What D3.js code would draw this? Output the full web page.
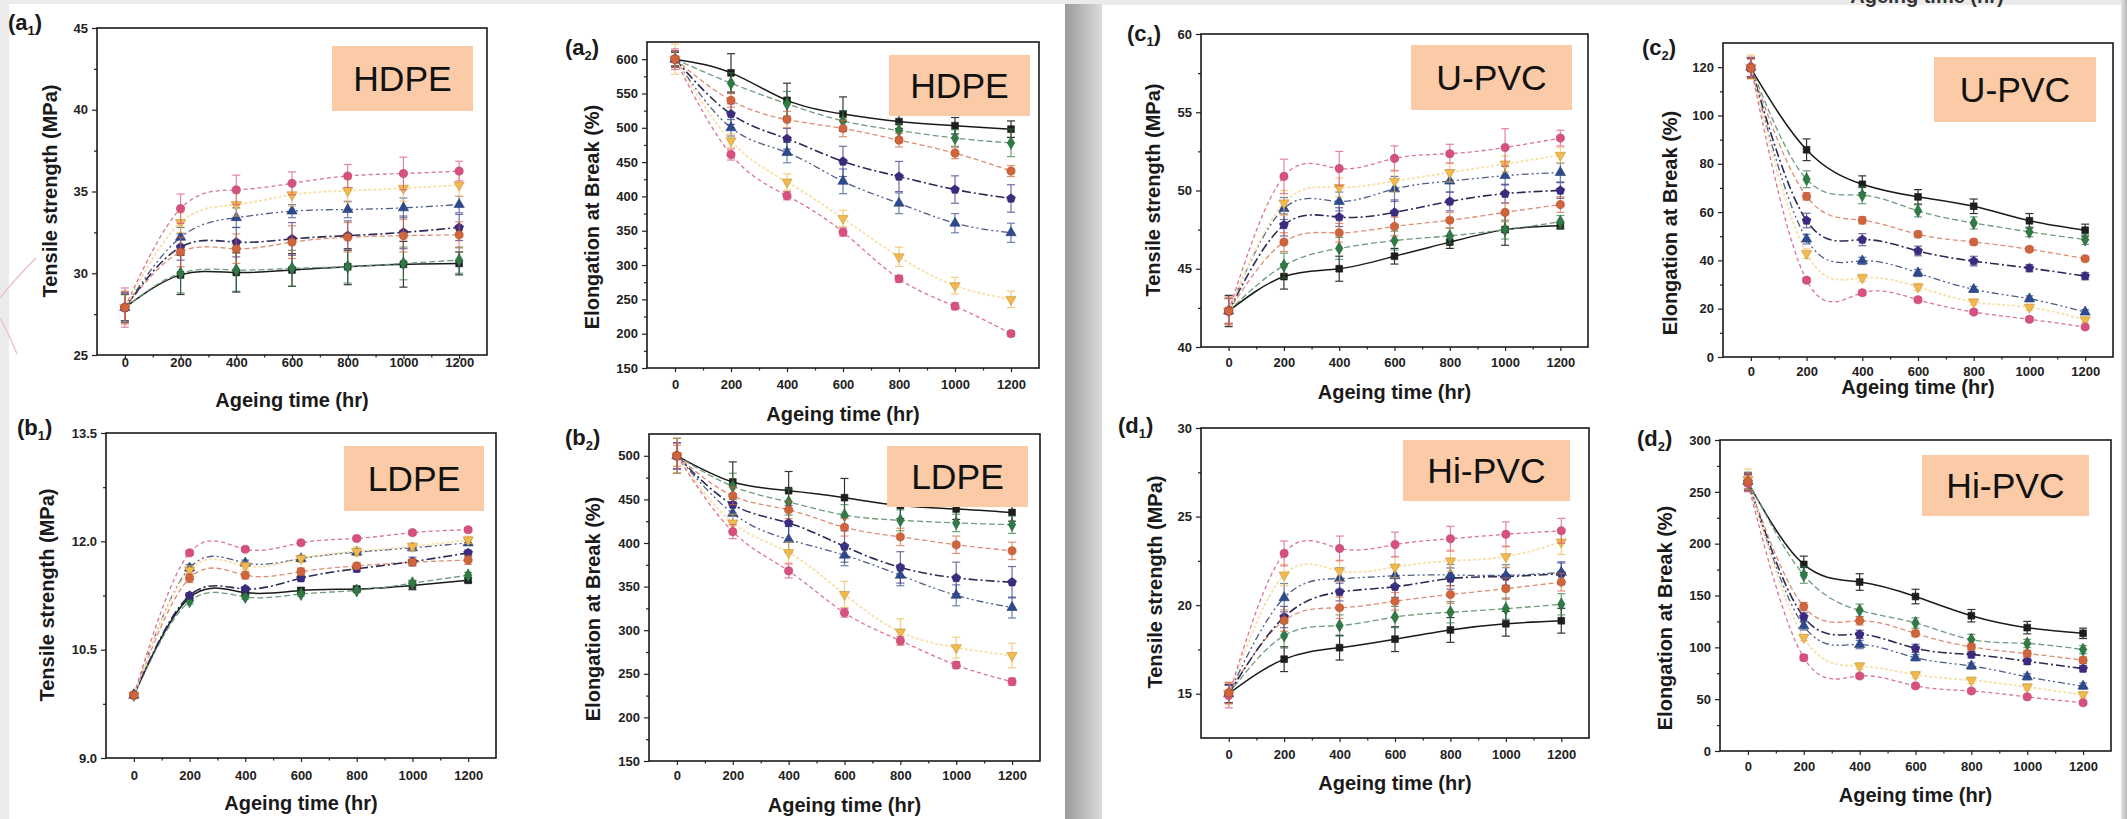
<!DOCTYPE html>
<html lang="en">
<head>
<meta charset="UTF-8">
<title>Ageing time curves</title>
<script src="https://cdn.jsdelivr.net/npm/d3@7/dist/d3.min.js"></script>
<style>
  body { margin: 0; background: #e8e8e8; }
  svg { display: block; }
  text { font-family: "Liberation Sans", Arial, sans-serif; }
</style>
</head>
<body>
<div id="app"></div>
<script>
var width = 2127, height = 819;

// ageing time (hr)
var hours = [0, 200, 400, 600, 800, 1000, 1200];
var xTicks = [0, 200, 400, 600, 800, 1000, 1200];
var xMinorTicks = [100, 300, 500, 700, 900, 1100];
var seriesNames = ["S1", "S2", "S3", "S4", "S5", "S6", "S7"];

// HDPE tensile strength (MPa), one row per series
var hdpeTS = [
  [27.9, 29.9, 30.05, 30.2, 30.4, 30.55, 30.6],
  [27.9, 30.0, 30.2, 30.3, 30.4, 30.6, 30.8],
  [27.9, 31.3, 31.5, 31.9, 32.2, 32.3, 32.35],
  [27.9, 31.6, 31.9, 32.1, 32.3, 32.5, 32.8],
  [27.9, 32.2, 33.4, 33.8, 33.9, 34.0, 34.2],
  [27.9, 33.1, 34.2, 34.8, 35.05, 35.2, 35.4],
  [27.9, 33.95, 35.1, 35.5, 35.95, 36.1, 36.25]
];
var hdpeTSErr = [
  [0.8, 1.2, 1.2, 1.0, 1.1, 1.4, 0.7],
  [0.8, 1.2, 1.3, 1.1, 1.0, 1.0, 0.8],
  [1.0, 0.9, 0.9, 1.0, 0.9, 1.0, 0.8],
  [0.9, 0.8, 0.9, 1.0, 0.9, 1.0, 0.8],
  [0.9, 0.6, 0.6, 0.4, 0.5, 0.6, 0.5],
  [1.0, 0.6, 0.7, 0.7, 0.7, 0.8, 0.7],
  [1.2, 0.9, 0.9, 0.7, 0.7, 1.0, 0.6]
];
var hdpeTSTicks = [25, 30, 35, 40, 45];

// HDPE elongation at break (%)
var hdpeEB = [
  [600, 580, 540, 520, 509, 503, 498],
  [600, 565, 535, 510, 496, 485, 478],
  [600, 540, 512, 499, 482, 463, 437],
  [600, 520, 484, 451, 429, 410, 397],
  [600, 500, 464, 422, 390, 361, 347],
  [600, 481, 421, 368, 312, 270, 250],
  [600, 461, 401, 348, 280, 240, 200]
];
var hdpeEBErr = [
  [10, 28, 25, 25, 10, 12, 12],
  [10, 15, 18, 15, 10, 12, 20],
  [12, 10, 12, 12, 10, 8, 8],
  [12, 15, 15, 22, 22, 20, 20],
  [12, 12, 15, 18, 15, 14, 14],
  [22, 10, 12, 12, 14, 12, 12],
  [15, 8, 6, 6, 5, 5, 4]
];
var hdpeEBTicks = [150, 200, 250, 300, 350, 400, 450, 500, 550, 600];

// LDPE tensile strength (MPa)
var ldpeTS = [
  [9.87, 11.22, 11.29, 11.32, 11.34, 11.39, 11.46],
  [9.87, 11.17, 11.23, 11.27, 11.32, 11.42, 11.53],
  [9.87, 11.49, 11.53, 11.58, 11.66, 11.71, 11.74],
  [9.87, 11.25, 11.34, 11.49, 11.62, 11.72, 11.84],
  [9.87, 11.63, 11.70, 11.76, 11.85, 11.91, 11.98],
  [9.87, 11.60, 11.66, 11.76, 11.86, 11.93, 12.02],
  [9.87, 11.84, 11.89, 11.98, 12.04, 12.12, 12.16]
];
var ldpeTSErr = [
  [0.03, 0.04, 0.03, 0.03, 0.03, 0.06, 0.03],
  [0.03, 0.04, 0.03, 0.03, 0.03, 0.04, 0.04],
  [0.03, 0.06, 0.05, 0.05, 0.04, 0.04, 0.06],
  [0.03, 0.04, 0.03, 0.04, 0.04, 0.06, 0.04],
  [0.03, 0.05, 0.04, 0.04, 0.04, 0.04, 0.04],
  [0.03, 0.06, 0.05, 0.05, 0.06, 0.05, 0.05],
  [0.03, 0.03, 0.03, 0.03, 0.03, 0.03, 0.03]
];
var ldpeTSTicks = [9.0, 10.5, 12.0, 13.5];

// LDPE elongation at break (%)
var ldpeEB = [
  [500, 470, 460, 452, 443, 439, 435],
  [500, 465, 447, 432, 426, 423, 421],
  [500, 454, 438, 418, 407, 398, 391],
  [500, 444, 423, 396, 372, 360, 355],
  [500, 434, 404, 386, 363, 340, 326],
  [500, 423, 389, 341, 298, 280, 271],
  [500, 413, 368, 320, 288, 260, 241]
];
var ldpeEBErr = [
  [20, 23, 22, 22, 15, 12, 10],
  [15, 15, 15, 12, 12, 10, 10],
  [12, 10, 10, 10, 10, 10, 10],
  [15, 12, 20, 18, 18, 18, 18],
  [15, 10, 15, 12, 12, 12, 12],
  [20, 10, 12, 15, 15, 12, 14],
  [15, 8, 8, 5, 5, 4, 4]
];
var ldpeEBTicks = [150, 200, 250, 300, 350, 400, 450, 500];

// U-PVC tensile strength (MPa)
var upvcTS = [
  [42.3, 44.5, 45.0, 45.8, 46.7, 47.5, 47.75],
  [42.3, 45.2, 46.3, 46.8, 47.1, 47.5, 48.0],
  [42.3, 46.7, 47.3, 47.7, 48.1, 48.6, 49.1],
  [42.3, 47.8, 48.3, 48.6, 49.3, 49.8, 50.0],
  [42.3, 48.85, 49.3, 50.1, 50.6, 50.95, 51.15],
  [42.3, 49.2, 50.2, 50.6, 51.15, 51.7, 52.25],
  [42.3, 50.9, 51.4, 52.05, 52.35, 52.75, 53.35]
];
var upvcTSErr = [
  [1.0, 0.8, 0.8, 0.5, 0.4, 1.0, 0.2],
  [0.8, 0.8, 0.7, 0.6, 0.5, 0.6, 0.4],
  [0.9, 0.6, 0.6, 0.6, 0.5, 0.6, 0.5],
  [0.8, 0.7, 0.6, 0.8, 0.6, 0.6, 0.5],
  [0.8, 0.7, 0.6, 0.8, 0.7, 0.6, 0.6],
  [0.8, 0.8, 0.6, 0.7, 0.6, 0.5, 0.5],
  [0.8, 1.1, 1.1, 0.8, 0.6, 1.2, 0.5]
];
var upvcTSTicks = [40, 45, 50, 55, 60];

// U-PVC elongation at break (%)
var upvcEB = [
  [119.5, 85.8, 71.5, 66.3, 62.4, 56.4, 52.5],
  [120, 73.6, 67, 60.5, 55.5, 51.8, 48.6],
  [119.5, 66.5, 56.6, 50.8, 47.6, 44.6, 40.7],
  [120, 56.5, 48.6, 43.9, 39.7, 36.8, 33.5],
  [120, 48.8, 39.8, 34.8, 28, 24.1, 18.6],
  [120, 42.8, 32.8, 29, 22.8, 20.6, 15.4],
  [120, 31.8, 26.6, 23.7, 18.6, 15.6, 12.4]
];
var upvcEBErr = [
  [4, 4.5, 3.5, 3.0, 3.0, 3.0, 2.5],
  [4, 3.5, 3.5, 2.5, 2.5, 2.0, 2.0],
  [4, 1.5, 1.5, 1.2, 1.2, 1.0, 1.0],
  [4, 3.0, 2.5, 2.0, 2.0, 1.5, 1.5],
  [4, 2.0, 1.5, 1.5, 1.2, 1.2, 1.0],
  [5, 2.0, 1.5, 1.5, 1.2, 1.2, 1.0],
  [4, 1.0, 1.0, 1.0, 1.0, 1.0, 0.8]
];
var upvcEBTicks = [0, 20, 40, 60, 80, 100, 120];

// Hi-PVC tensile strength (MPa)
var hipvcTS = [
  [15.0, 16.95, 17.6, 18.08, 18.6, 18.95, 19.12],
  [15.0, 18.28, 18.85, 19.33, 19.6, 19.8, 20.05],
  [15.05, 19.13, 19.85, 20.22, 20.6, 20.93, 21.3],
  [15.0, 19.33, 20.74, 21.04, 21.5, 21.62, 21.78],
  [15.0, 20.42, 21.5, 21.66, 21.7, 21.68, 21.85],
  [15.0, 21.7, 21.94, 22.15, 22.5, 22.74, 23.56],
  [14.9, 22.92, 23.2, 23.42, 23.75, 24.0, 24.2]
];
var hipvcTSErr = [
  [0.5, 0.7, 0.7, 0.7, 0.7, 0.7, 0.7],
  [0.5, 0.7, 0.6, 0.6, 0.6, 0.6, 0.6],
  [0.6, 0.6, 0.6, 0.5, 0.5, 0.6, 0.5],
  [0.5, 0.6, 0.5, 0.6, 0.6, 0.5, 0.6],
  [0.5, 0.8, 0.6, 0.5, 0.6, 0.6, 0.6],
  [0.6, 0.6, 0.6, 0.6, 0.6, 0.6, 0.7],
  [0.7, 0.7, 0.7, 0.7, 0.7, 0.7, 0.7]
];
var hipvcTSTicks = [15, 20, 25, 30];

// Hi-PVC elongation at break (%)
var hipvcEB = [
  [259, 180, 163, 149, 130.5, 119, 113.5],
  [261, 169.8, 135.7, 123.5, 107.5, 103.7, 97.8],
  [260, 139.3, 125.6, 113.4, 100.4, 94, 87.6],
  [260, 129.3, 112.5, 99, 93, 86.6, 79.5],
  [260, 120.7, 102.7, 90, 82, 71.6, 62.6],
  [262, 109.5, 82, 73.6, 68.2, 61.8, 54.3],
  [258, 90, 72.4, 62.8, 57.9, 52.2, 46.5]
];
var hipvcEBErr = [
  [8, 8, 8, 7, 6, 6, 5],
  [8, 8, 6, 5, 5, 4, 4],
  [8, 4, 4, 3, 3, 3, 3],
  [8, 4, 4, 4, 3, 3, 3],
  [8, 4, 4, 3, 3, 3, 3],
  [10, 3, 3, 3, 3, 3, 3],
  [8, 3, 2, 2, 2, 2, 2]
];
var hipvcEBTicks = [0, 50, 100, 150, 200, 250, 300];

// look of each series
var pentagon = {
  draw: function (ctx, size) {
    var r = Math.sqrt(size) * 0.62;
    for (var k = 0; k < 5; k++) {
      var a = -Math.PI / 2 + k * 2 * Math.PI / 5;
      if (k === 0) ctx.moveTo(r * Math.cos(a), r * Math.sin(a));
      else ctx.lineTo(r * Math.cos(a), r * Math.sin(a));
    }
    ctx.closePath();
  }
};
var styles = [
  { mark: "#1e1e1e", line: "#1a1a1a", dash: null, lw: 1.5, sym: d3.symbolSquare, size: 46, rot: 0 },
  { mark: "#2f7a45", line: "#6f9c7c", dash: "6,3", lw: 1.3, sym: d3.symbolDiamond, size: 48, rot: 0 },
  { mark: "#d2643c", line: "#dd8d72", dash: "5,3", lw: 1.3, sym: d3.symbolCircle, size: 52, rot: 0 },
  { mark: "#3c2a80", line: "#2b2a55", dash: "9,3,2,3", lw: 1.6, sym: pentagon, size: 56, rot: 0 },
  { mark: "#2e4a8e", line: "#4d5c88", dash: "7,3,2,3,2,3", lw: 1.3, sym: d3.symbolTriangle, size: 46, rot: 0 },
  { mark: "#f2b94d", line: "#f7e2ae", dash: "3,2", lw: 1.9, sym: d3.symbolTriangle, size: 46, rot: 180 },
  { mark: "#d9507f", line: "#db7392", dash: "4,3", lw: 1.3, sym: d3.symbolCircle, size: 52, rot: 0 }
];
var drawOrder = [0, 1, 3, 4, 5, 6, 2];

var tsTitle = "Tensile strength (MPa)";
var ebTitle = "Elongation at Break (%)";

var panels = [
  { letter: "a", sub: "1", name: "HDPE", vals: hdpeTS, errs: hdpeTSErr, ticks: hdpeTSTicks, yDomain: [25, 45], fmt: "d", title: tsTitle,
    l: 97, t: 28, r: 487, b: 355, lab: [8, 22], box: [332, 46, 473, 111], xLab: 3, xTitleY: 400, yTitleX: 50, yTitleY: 191 },
  { letter: "a", sub: "2", name: "HDPE", vals: hdpeEB, errs: hdpeEBErr, ticks: hdpeEBTicks, yDomain: [150, 625], fmt: "d", title: ebTitle,
    l: 647, t: 42, r: 1039, b: 368, lab: [565, 47], box: [889, 55, 1030, 116], xLab: 12, xTitleY: 414, yTitleX: 592, yTitleY: 217 },
  { letter: "b", sub: "1", name: "LDPE", vals: ldpeTS, errs: ldpeTSErr, ticks: ldpeTSTicks, yDomain: [9, 13.5], fmt: ".1f", title: tsTitle,
    l: 106, t: 433, r: 496, b: 758, lab: [17, 427], box: [344, 446, 484, 511], xLab: 13, xTitleY: 803, yTitleX: 47, yTitleY: 595 },
  { letter: "b", sub: "2", name: "LDPE", vals: ldpeEB, errs: ldpeEBErr, ticks: ldpeEBTicks, yDomain: [150, 525], fmt: "d", title: ebTitle,
    l: 649, t: 434, r: 1040, b: 761, lab: [565, 437], box: [887, 446, 1028, 507], xLab: 10, xTitleY: 805, yTitleX: 593, yTitleY: 609 },
  { letter: "c", sub: "1", name: "U-PVC", vals: upvcTS, errs: upvcTSErr, ticks: upvcTSTicks, yDomain: [40, 60], fmt: "d", title: tsTitle,
    l: 1201, t: 34, r: 1588, b: 347, lab: [1127, 33], box: [1411, 45, 1572, 110], xLab: 11, xTitleY: 392, yTitleX: 1153, yTitleY: 190 },
  { letter: "c", sub: "2", name: "U-PVC", vals: upvcEB, errs: upvcEBErr, ticks: upvcEBTicks, yDomain: [0, 130], fmt: "d", title: ebTitle,
    l: 1723, t: 43, r: 2113, b: 357, lab: [1642, 47], box: [1934, 57, 2096, 122], xLab: 10, xTitleY: 387, yTitleX: 1670, yTitleY: 223 },
  { letter: "d", sub: "1", name: "Hi-PVC", vals: hipvcTS, errs: hipvcTSErr, ticks: hipvcTSTicks, yDomain: [12.5, 30], fmt: "d", title: tsTitle,
    l: 1201, t: 428, r: 1589, b: 738, lab: [1118, 425], box: [1403, 440, 1570, 501], xLab: 12, xTitleY: 783, yTitleX: 1155, yTitleY: 582 },
  { letter: "d", sub: "2", name: "Hi-PVC", vals: hipvcEB, errs: hipvcEBErr, ticks: hipvcEBTicks, yDomain: [0, 300], fmt: "d", title: ebTitle,
    l: 1720, t: 440, r: 2111, b: 751, lab: [1637, 438], box: [1922, 455, 2089, 516], xLab: 11, xTitleY: 795, yTitleX: 1665, yTitleY: 618 }
];

var svg = d3.select("#app").append("svg")
  .attr("width", width)
  .attr("height", height);

// page background: two scanned sheets side by side
var defs = svg.append("defs");
var grad = defs.append("linearGradient").attr("id", "gap");
grad.append("stop").attr("offset", "0%").attr("stop-color", "#9a9a9a");
grad.append("stop").attr("offset", "100%").attr("stop-color", "#dcdcdc");
var edge = defs.append("linearGradient").attr("id", "edge");
edge.append("stop").attr("offset", "0%").attr("stop-color", "#e4e4e4");
edge.append("stop").attr("offset", "100%").attr("stop-color", "#b8b8b8");

svg.append("rect").attr("width", width).attr("height", height).attr("fill", "#ebebeb");
svg.append("rect").attr("x", 9).attr("y", 4).attr("width", 1056).attr("height", 815).attr("fill", "#fff");
svg.append("rect").attr("x", 1065).attr("y", 4).attr("width", 37).attr("height", 815).attr("fill", "url(#gap)");
svg.append("rect").attr("x", 1102).attr("y", 5).attr("width", 1019).attr("height", 814).attr("fill", "#fff");
svg.append("rect").attr("x", 2121).attr("y", 0).attr("width", 6).attr("height", height).attr("fill", "url(#edge)");

// faint decoration at the left edge
svg.append("path").attr("d", "M36,258 Q14,280 0,298 M0,318 Q9,334 17,354")
  .attr("fill", "none").attr("stroke", "#efc3c7").attr("stroke-width", 1.5);

// cut-off title from the sheet above (only its lower part shows)
svg.append("text").attr("x", 1927).attr("y", 3).attr("text-anchor", "middle")
  .attr("font-size", 20).attr("font-weight", "bold").attr("fill", "#333").text("Ageing time (hr)");

function minorOf(ticks, domain) {
  var step = ticks[1] - ticks[0], out = [];
  for (var i = 0; i < ticks.length - 1; i++) out.push((ticks[i] + ticks[i + 1]) / 2);
  if (ticks[0] - step / 2 > domain[0]) out.unshift(ticks[0] - step / 2);
  if (ticks[ticks.length - 1] + step / 2 < domain[1]) out.push(ticks[ticks.length - 1] + step / 2);
  return out;
}

panels.forEach(function (p) {
  var x = d3.scaleLinear().domain([-100, 1300]).range([p.l, p.r]);
  var y = d3.scaleLinear().domain(p.yDomain).range([p.b, p.t]);
  var g = svg.append("g");

  var line = d3.line()
    .x(function (d, j) { return x(hours[j]); })
    .y(function (d) { return y(d); })
    .curve(d3.curveNatural);

  // connecting curves
  p.vals.forEach(function (row, i) {
    var s = styles[i];
    g.append("path").datum(row)
      .attr("d", line)
      .attr("fill", "none")
      .attr("stroke", s.line)
      .attr("stroke-width", s.lw)
      .attr("stroke-dasharray", s.dash);
  });

  // error bars and markers
  drawOrder.forEach(function (i) {
    var s = styles[i], row = p.vals[i], err = p.errs[i];
    var eg = g.append("g").attr("class", "err " + seriesNames[i])
      .attr("stroke", s.mark).attr("stroke-width", 1.2)
      .attr("opacity", i === 0 ? 0.9 : 0.7);
    row.forEach(function (v, j) {
      var cx = x(hours[j]), y0 = y(v - err[j]), y1 = y(v + err[j]);
      eg.append("line").attr("x1", cx).attr("x2", cx).attr("y1", y0).attr("y2", y1);
      eg.append("line").attr("x1", cx - 4).attr("x2", cx + 4).attr("y1", y0).attr("y2", y0);
      eg.append("line").attr("x1", cx - 4).attr("x2", cx + 4).attr("y1", y1).attr("y2", y1);
    });
    g.selectAll(null).data(row).enter().append("path")
      .attr("d", d3.symbol().type(s.sym).size(s.size))
      .attr("transform", function (d, j) {
        return "translate(" + x(hours[j]) + "," + y(d) + ") rotate(" + s.rot + ")";
      })
      .attr("fill", s.mark)
      .attr("stroke", d3.color(s.mark).darker(0.6))
      .attr("stroke-width", 0.6);
  });

  // axes
  var xAxis = g.append("g").attr("transform", "translate(0," + p.b + ")")
    .call(d3.axisBottom(x).tickValues(xTicks).tickSize(4).tickSizeOuter(0).tickFormat(d3.format("d")));
  xAxis.selectAll("text").attr("y", p.xLab).attr("dy", "0.72em");
  g.append("g").attr("transform", "translate(0," + p.b + ")")
    .call(d3.axisBottom(x).tickValues(xMinorTicks).tickSize(2.5).tickSizeOuter(0).tickFormat(""));

  g.append("g").attr("transform", "translate(" + p.l + ",0)")
    .call(d3.axisLeft(y).tickValues(p.ticks).tickSize(5).tickPadding(4).tickSizeOuter(0).tickFormat(d3.format(p.fmt)));
  g.append("g").attr("transform", "translate(" + p.l + ",0)")
    .call(d3.axisLeft(y).tickValues(minorOf(p.ticks, p.yDomain)).tickSize(3).tickSizeOuter(0).tickFormat(""));

  g.selectAll(".domain").remove();
  g.selectAll(".tick line").attr("stroke", "#222").attr("stroke-width", 1.2);
  g.selectAll(".tick text").attr("font-size", 13).attr("font-weight", "bold").attr("fill", "#222")
    .attr("font-family", "'Liberation Sans', Arial, sans-serif");

  // frame
  g.append("rect").attr("x", p.l).attr("y", p.t)
    .attr("width", p.r - p.l).attr("height", p.b - p.t)
    .attr("fill", "none").attr("stroke", "#1a1a1a").attr("stroke-width", 1.6);

  // axis titles
  g.append("text").attr("x", (p.l + p.r) / 2).attr("y", p.xTitleY).attr("dy", "0.36em")
    .attr("text-anchor", "middle").attr("font-size", 20).attr("font-weight", "bold").attr("fill", "#1a1a1a")
    .text("Ageing time (hr)");
  g.append("text").attr("transform", "translate(" + p.yTitleX + "," + p.yTitleY + ") rotate(-90)")
    .attr("dy", "0.36em").attr("text-anchor", "middle").attr("font-size", 20).attr("font-weight", "bold")
    .attr("fill", "#1a1a1a").text(p.title);

  // panel label
  var lab = g.append("text").attr("x", p.lab[0]).attr("y", p.lab[1]).attr("dy", "0.36em")
    .attr("font-size", 22).attr("font-weight", "bold").attr("fill", "#1a1a1a");
  lab.append("tspan").text("(" + p.letter);
  lab.append("tspan").attr("font-size", 13).attr("dy", 5).text(p.sub);
  lab.append("tspan").attr("dy", -5).text(")");

  // material label box (sits over the curves)
  g.append("rect").attr("x", p.box[0]).attr("y", p.box[1])
    .attr("width", p.box[2] - p.box[0]).attr("height", p.box[3] - p.box[1])
    .attr("fill", "#facba6");
  g.append("text").attr("x", (p.box[0] + p.box[2]) / 2).attr("y", (p.box[1] + p.box[3]) / 2)
    .attr("dy", "0.36em").attr("text-anchor", "middle").attr("font-size", 35.5).attr("fill", "#111")
    .text(p.name);
});
</script>
</body>
</html>
